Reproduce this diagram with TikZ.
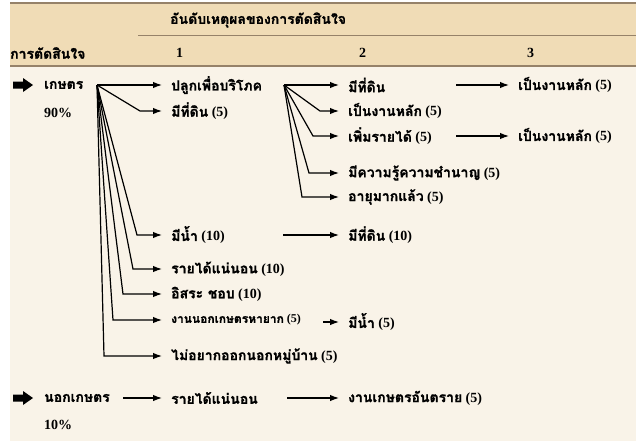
\documentclass[tikz,border=0pt]{standalone}
\usepackage{fontspec}
\setmainfont{Liberation Serif}
\newfontfamily\thaifont[Script=Thai,Scale=1.0,FakeBold=1.2]{Loma}
\newcommand{\tht}[1]{{\thaifont #1}}
\newcommand{\bigarrow}[1]{\fill (#1) ++(-10,-3.5) -- ++(10,0) -- ++(0,-3.5)
  -- ++(10,7) -- ++(-10,7) -- ++(0,-3.5) -- ++(-10,0) -- cycle;}
\usetikzlibrary{arrows.meta}

\definecolor{headtan}{RGB}{240,220,182}
\definecolor{bodycream}{RGB}{249,243,232}
\definecolor{ruleline}{RGB}{150,130,105}

\tikzset{
  lbl/.style={anchor=west, inner sep=0pt, font=\bfseries\fontsize{14}{16}\selectfont},
  small/.style={font=\bfseries\fontsize{12}{14}\selectfont},
  link/.style={line width=1.2pt, -{Latex[length=9pt,width=6.5pt]}, shorten >=9pt},
}

\begin{document}
\begin{tikzpicture}[x=1pt,y=-1pt]
\useasboundingbox (0,0) rectangle (639,447);
% table background
\fill[bodycream] (10,66) rectangle (636,441);
\fill[headtan] (10,3) rectangle (636,66);
\draw[ruleline, line width=1.2pt] (10,3) -- (636,3);
\draw[ruleline, line width=1.2pt] (10,66) -- (636,66);
\draw[ruleline, line width=0.8pt] (138,35) -- (636,35);

% header
\node[lbl] (hrank) at (170,20) {\tht{อันดับเหตุผลของการตัดสินใจ}};
\node[lbl] (hdec) at (10,53) {\tht{การตัดสินใจ}};
\node[lbl] (hone) at (176,53) {1};
\node[lbl] (htwo) at (359,53) {2};
\node[lbl] (hthree) at (527,53) {3};

% decisions
\coordinate (farmarr) at (23,85);
\coordinate (outarr) at (23,398);
\bigarrow{farmarr}
\bigarrow{outarr}
\node[lbl] (farm) at (44,85) {\tht{เกษตร}};
\node[lbl] (farmpct) at (44,113) {90\%};
\node[lbl] (out) at (44,398) {\tht{นอกเกษตร}};
\node[lbl] (outpct) at (44,425) {10\%};

\coordinate (fanA) at (97,85);
\coordinate (fanB) at (284,85);

% rank 1
\node[lbl] (ca) at (171,85) {\tht{ปลูกเพื่อบริโภค}};
\node[lbl] (cb) at (171,111) {\tht{มีที่ดิน} (5)};
\node[lbl] (cc) at (171,235) {\tht{มีน้ำ} (10)};
\node[lbl] (cd) at (171,269) {\tht{รายได้แน่นอน} (10)};
\node[lbl] (ce) at (171,294) {\tht{อิสระ ชอบ} (10)};
\node[lbl,small] (cf) at (171,320) {\tht{งานนอกเกษตรหายาก} (5)};
\node[lbl] (cg) at (171,356) {\tht{ไม่อยากออกนอกหมู่บ้าน} (5)};
\node[lbl] (oa) at (171,398) {\tht{รายได้แน่นอน}};

% rank 2
\node[lbl] (da) at (348,85) {\tht{มีที่ดิน}};
\node[lbl] (db) at (348,111) {\tht{เป็นงานหลัก} (5)};
\node[lbl] (dc) at (348,136) {\tht{เพิ่มรายได้} (5)};
\node[lbl] (dd) at (348,173) {\tht{มีความรู้ความชำนาญ} (5)};
\node[lbl] (de) at (348,197) {\tht{อายุมากแล้ว} (5)};
\node[lbl] (df) at (348,235) {\tht{มีที่ดิน} (10)};
\node[lbl] (dg) at (348,322) {\tht{มีน้ำ} (5)};
\node[lbl] (ob) at (348,398) {\tht{งานเกษตรอันตราย} (5)};

% rank 3
\node[lbl] (ea) at (518,85) {\tht{เป็นงานหลัก} (5)};
\node[lbl] (eb) at (518,136) {\tht{เป็นงานหลัก} (5)};

% fan from farming
\draw[link] (fanA) -- (ca.west);
\draw[link] (fanA) -- ([xshift=-31pt]cb.west) -- (cb.west);
\draw[link] (fanA) -- ([xshift=-34pt]cc.west) -- (cc.west);
\draw[link] (fanA) -- ([xshift=-38pt]cd.west) -- (cd.west);
\draw[link] (fanA) -- ([xshift=-48pt]ce.west) -- (ce.west);
\draw[link] (fanA) -- ([xshift=-58pt]cf.west) -- (cf.west);
\draw[link] (fanA) -- ([xshift=-67pt]cg.west) -- (cg.west);

% fan from own consumption
\draw[link] (fanB) -- (da.west);
\draw[link] (fanB) -- ([xshift=-28pt]db.west) -- (db.west);
\draw[link] (fanB) -- ([xshift=-35pt]dc.west) -- (dc.west);
\draw[link] (fanB) -- ([xshift=-39pt]dd.west) -- (dd.west);
\draw[link] (fanB) -- ([xshift=-46pt]de.west) -- (de.west);

% single steps
\draw[link] ([xshift=-62pt]ea.west) -- (ea.west);
\draw[link] ([xshift=-62pt]eb.west) -- (eb.west);
\draw[link] ([xshift=-65pt]df.west) -- (df.west);
\draw[link] ([xshift=-25pt]dg.west) -- (dg.west);
\draw[link] ([xshift=-48pt]oa.west) -- (oa.west);
\draw[link] ([xshift=-61pt]ob.west) -- (ob.west);
\end{tikzpicture}
\end{document}
